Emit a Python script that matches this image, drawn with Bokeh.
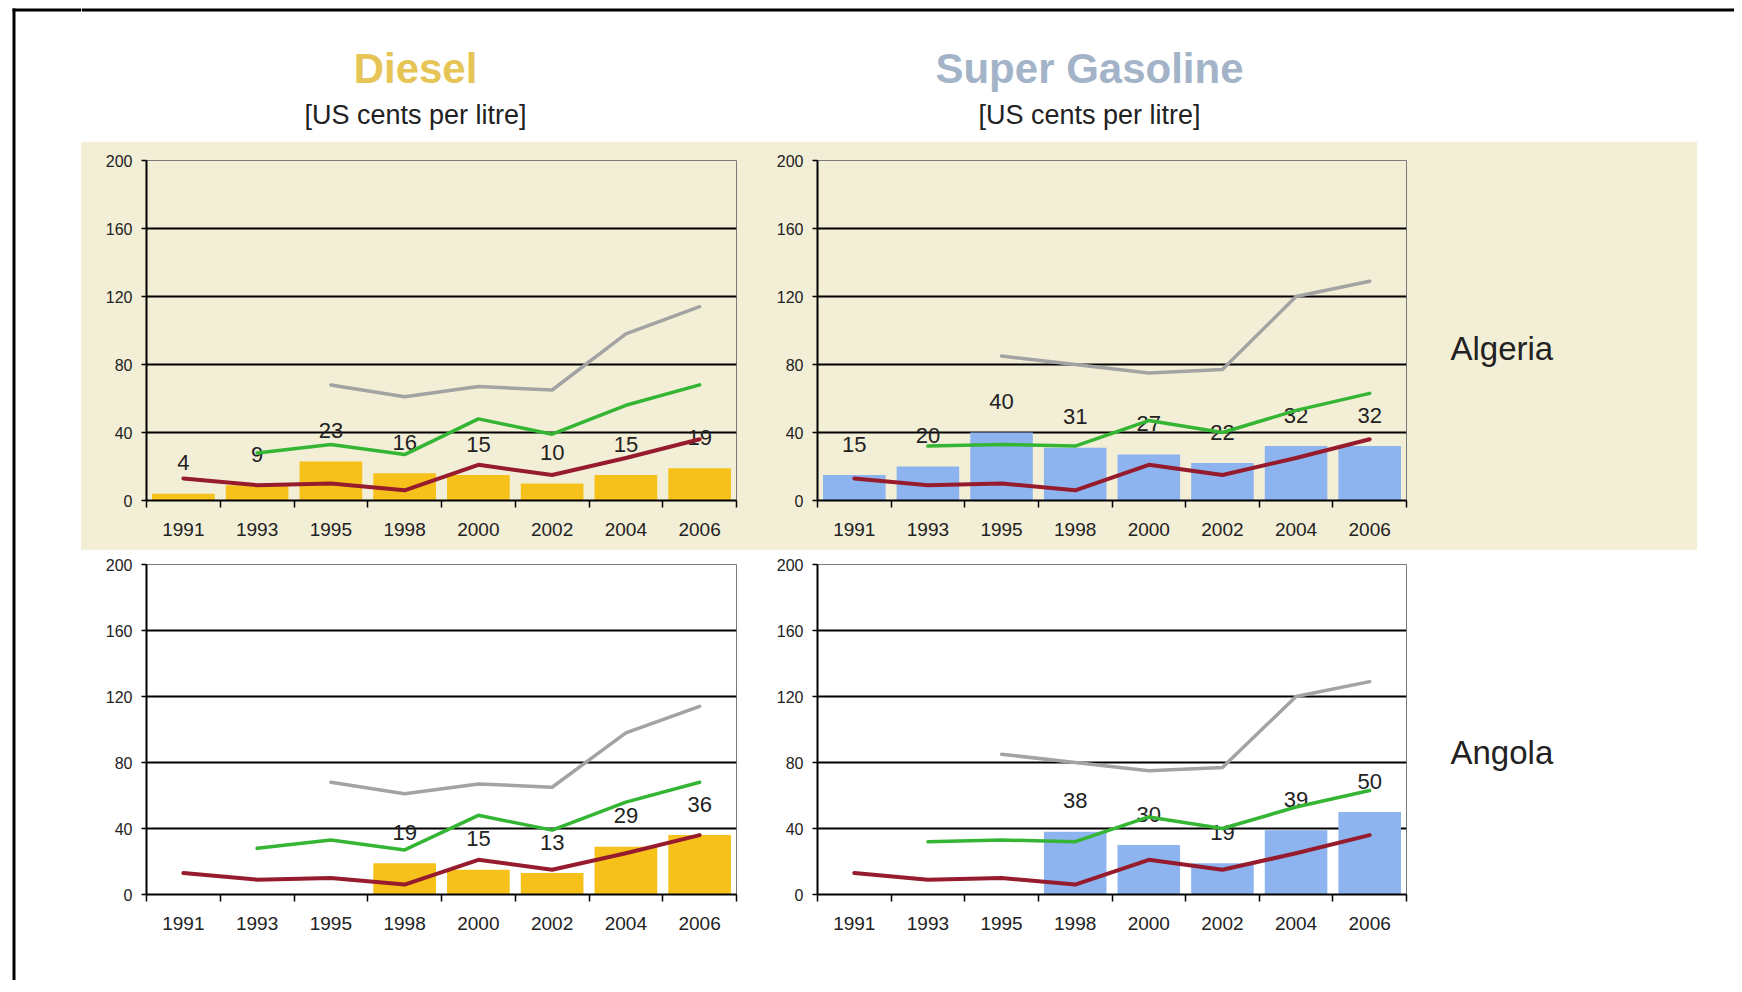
from bokeh.plotting import figure
from bokeh.layouts import row, column
from bokeh.models import Range1d, FixedTicker
from bokeh.embed import file_html
from bokeh.resources import INLINE
from bokeh.core.properties import value

# ---------------- data ----------------
years = ["1991", "1993", "1995", "1998", "2000", "2002", "2004", "2006"]
y_ticks = [0, 40, 80, 120, 160, 200]

diesel_algeria = [4, 9, 23, 16, 15, 10, 15, 19]
diesel_angola = [None, None, None, 19, 15, 13, 29, 36]
gasoline_algeria = [15, 20, 40, 31, 27, 22, 32, 32]
gasoline_angola = [None, None, None, 38, 30, 19, 39, 50]

diesel_grey = [None, None, 68, 61, 67, 65, 98, 114]
diesel_green = [None, 28, 33, 27, 48, 39, 56, 68]
gasoline_grey = [None, None, 85, 80, 75, 77, 120, 129]
gasoline_green = [None, 32, 33, 32, 47, 40, 53, 63]
crude_red = [13, 9, 10, 6, 21, 15, 25, 36]

titles = ["Diesel", "Super Gasoline"]
subtitle = "[US cents per litre]"
countries = ["Algeria", "Angola"]

# ---------------- style ----------------
FONT = value("Liberation Sans")
BEIGE = "#F3EED6"
DIESEL_BAR = "#F7C11C"
GAS_BAR = "#8DB4EE"
GREEN = "#34B534"
GREY = "#A3A3A3"
RED = "#961B2C"
TXT = "#222222"


def keep(vals):
    xs, ys = [], []
    for i, v in enumerate(vals):
        if v is not None:
            xs.append(i + 0.5)
            ys.append(v)
    return xs, ys


def panel(bars, grey, green, red, bar_color, bg, width, left_b, right_b, top_b, frame_h, bottom_b):
    n = len(years)
    p = figure(width=width, height=top_b + frame_h + bottom_b,
               x_range=Range1d(0, n), y_range=Range1d(0, 200),
               output_backend="svg", toolbar_location=None,
               min_border_left=left_b, min_border_right=right_b,
               min_border_top=top_b, min_border_bottom=bottom_b,
               background_fill_color=bg, border_fill_color=bg,
               outline_line_color="#7a7a7a", outline_line_width=1,
               styles={"background-color": bg})
    centers = [i + 0.5 for i in range(n)]
    bounds = list(range(n + 1))

    # x axis: labels at category centres, tick marks at category boundaries
    xa = p.xaxis[0]
    xa.ticker = FixedTicker(ticks=centers, minor_ticks=bounds)
    xa.major_label_overrides = {c: y for c, y in zip(centers, years)}
    xa.major_tick_out = 0
    xa.major_tick_in = 0
    xa.minor_tick_out = 7
    xa.minor_tick_in = 0
    xa.minor_tick_line_color = "black"
    xa.minor_tick_line_width = 1.5
    xa.axis_line_color = "black"
    xa.axis_line_width = 2
    xa.major_label_text_font = "Liberation Sans"
    xa.major_label_text_font_size = "19px"
    xa.major_label_text_color = TXT
    xa.major_label_standoff = 15

    ya = p.yaxis[0]
    ya.ticker = FixedTicker(ticks=y_ticks)
    ya.major_tick_out = 5
    ya.major_tick_in = 0
    ya.major_tick_line_color = "black"
    ya.major_tick_line_width = 1.5
    ya.minor_tick_out = 0
    ya.minor_tick_in = 0
    ya.axis_line_color = "black"
    ya.axis_line_width = 2
    ya.major_label_text_font = "Liberation Sans"
    ya.major_label_text_font_size = "16px"
    ya.major_label_text_color = TXT
    ya.major_label_standoff = 9

    p.xgrid.visible = False
    p.ygrid.ticker = FixedTicker(ticks=y_ticks[1:-1])
    p.ygrid.grid_line_color = "black"
    p.ygrid.grid_line_width = 2

    bx, bt = keep(bars)
    p.vbar(x=bx, top=bt, bottom=0, width=0.85, fill_color=bar_color, line_color=None)
    p.text(x=bx, y=bt, text=[str(v) for v in bt], y_offset=-31,
           text_font=FONT, text_font_size="22px", text_color=TXT,
           text_align="center", text_baseline="alphabetic")

    for vals, col, lw in ((grey, GREY, 3.5), (green, GREEN, 3.5), (red, RED, 4)):
        lx, ly = keep(vals)
        p.line(x=lx, y=ly, line_color=col, line_width=lw, line_join="round", line_cap="round")
    return p


def blank(width, height, bg="white", top_b=0, bottom_b=0):
    fh = height - top_b - bottom_b
    p = figure(width=width, height=height,
               x_range=Range1d(0, width), y_range=Range1d(fh, 0),
               x_axis_type=None, y_axis_type=None,
               min_border_left=0, min_border_right=0,
               min_border_top=top_b, min_border_bottom=bottom_b,
               output_backend="svg", toolbar_location=None,
               background_fill_color=None, border_fill_color=bg,
               outline_line_color=None, styles={"background-color": bg})
    p.grid.visible = False
    return p


LEFT_W, HDR_H = 81, 142
ROW_A_H, ROW_B_H = 408, 430
D_W, S_W = 679, 670
BAND_W, END_W = 267, 37
TOTAL_H = HDR_H + ROW_A_H + ROW_B_H

# left strip with the frame line
left = blank(LEFT_W, TOTAL_H)
left.segment(x0=[13.5], y0=[8], x1=[13.5], y1=[TOTAL_H], line_color="black", line_width=3)
left.segment(x0=[12], y0=[9.5], x1=[LEFT_W], y1=[9.5], line_color="black", line_width=3)

# header with titles
hdr_w = D_W + S_W + BAND_W + END_W
hdr = blank(hdr_w, HDR_H)
hdr.segment(x0=[0], y0=[9.5], x1=[hdr_w], y1=[9.5], line_color="black", line_width=3)
hdr.text(x=[334, 1008], y=[68, 68], text=titles, text_color=["#E6C556", "#A3B3C8"],
         text_font=FONT, text_font_size="42px", text_font_style="bold",
         text_align="center", text_baseline="alphabetic")
hdr.text(x=[334, 1008], y=[114, 114], text=[subtitle, subtitle], text_color=TXT,
         text_font=FONT, text_font_size="27px",
         text_align="center", text_baseline="alphabetic")

# Algeria row (beige band)
dA = panel(diesel_algeria, diesel_grey, diesel_green, crude_red, DIESEL_BAR, BEIGE,
           D_W, 65, 24, 18, 340, 50)
sA = panel(gasoline_algeria, gasoline_grey, gasoline_green, crude_red, GAS_BAR, BEIGE,
           S_W, 57, 24, 18, 340, 50)
rA = blank(BAND_W, ROW_A_H, BEIGE, 18, 50)
rA.text(x=[20], y=[188], text=[countries[0]], text_color=TXT, text_font=FONT,
        text_font_size="33px", text_align="left", text_baseline="alphabetic")
eA = blank(END_W, ROW_A_H, "white", 18, 50)

# Angola row
dB = panel(diesel_angola, diesel_grey, diesel_green, crude_red, DIESEL_BAR, "white",
           D_W, 65, 24, 14, 330, 86)
sB = panel(gasoline_angola, gasoline_grey, gasoline_green, crude_red, GAS_BAR, "white",
           S_W, 57, 24, 14, 330, 86)
rB = blank(BAND_W, ROW_B_H, "white", 14, 86)
rB.text(x=[20], y=[188], text=[countries[1]], text_color=TXT, text_font=FONT,
        text_font_size="33px", text_align="left", text_baseline="alphabetic")
eB = blank(END_W, ROW_B_H, "white", 14, 86)

layout = row(left, column(hdr, row(dA, sA, rA, eA), row(dB, sB, rB, eB)))

open("out.html", "w").write(file_html(layout, INLINE))
